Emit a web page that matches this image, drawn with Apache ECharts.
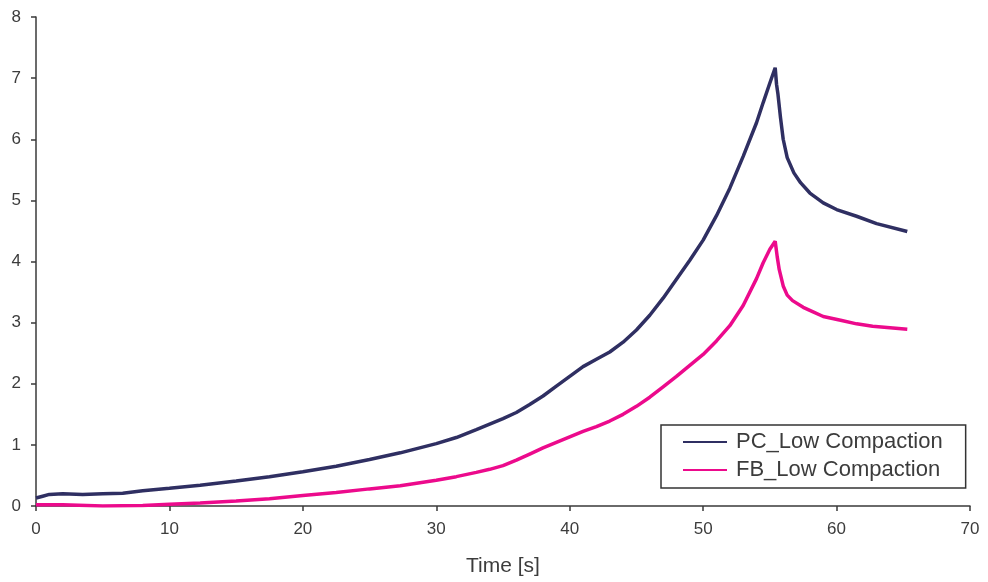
<!DOCTYPE html>
<html>
<head>
<meta charset="utf-8">
<script src="https://cdn.jsdelivr.net/npm/echarts@6/dist/echarts.min.js"></script>
<style>html,body{margin:0;padding:0;background:#fff;}#c{width:988px;height:582px;}</style>
</head>
<body>
<div id="c"></div>
<script>
const xTicks = [0, 10, 20, 30, 40, 50, 60, 70];
const yTicks = [0, 1, 2, 3, 4, 5, 6, 7, 8];

const pcTime   = [0, 0.5, 1, 2, 3.5, 5, 6.5, 8, 10, 12.3, 15, 17.5, 20, 22.5, 25, 27.3, 30, 31.5, 33, 34, 35, 36, 37, 38, 39, 40, 41, 42, 43, 44, 45, 46, 47, 48, 49, 50, 51, 52, 53, 54, 54.5, 55, 55.4, 55.5, 55.6, 55.8, 56, 56.3, 56.8, 57.3, 58, 59, 60, 61.5, 63, 65.3];
const pcValues = [0.13, 0.16, 0.19, 0.2, 0.19, 0.2, 0.21, 0.25, 0.29, 0.34, 0.41, 0.48, 0.56, 0.65, 0.76, 0.87, 1.02, 1.12, 1.25, 1.34, 1.43, 1.53, 1.66, 1.8, 1.96, 2.12, 2.28, 2.4, 2.52, 2.68, 2.88, 3.12, 3.4, 3.71, 4.02, 4.35, 4.75, 5.2, 5.72, 6.27, 6.6, 6.92, 7.17, 6.9, 6.75, 6.35, 6.0, 5.7, 5.45, 5.29, 5.12, 4.96, 4.85, 4.74, 4.62, 4.49];

const fbTime   = [0, 2, 5, 8, 10, 12.3, 15, 17.5, 20, 22.5, 25, 27.3, 30, 31.5, 33, 34, 35, 36, 37, 38, 39, 40, 41, 42, 43, 44, 45, 46, 47, 48, 49, 50, 51, 52, 53, 54, 54.5, 55, 55.4, 55.55, 55.7, 56, 56.3, 56.7, 57.5, 58.2, 59, 60.3, 61.5, 62.7, 65.3];
const fbValues = [0.02, 0.02, 0.0, 0.01, 0.03, 0.05, 0.08, 0.12, 0.17, 0.22, 0.28, 0.33, 0.42, 0.48, 0.55, 0.6, 0.66, 0.75, 0.85, 0.95, 1.04, 1.13, 1.22, 1.3, 1.39, 1.5, 1.63, 1.78, 1.95, 2.12, 2.3, 2.48, 2.7, 2.95, 3.28, 3.72, 3.98, 4.2, 4.33, 4.08, 3.87, 3.6, 3.45, 3.36, 3.25, 3.18, 3.1, 3.04, 2.98, 2.94, 2.89];

const seriesNames = ['PC_Low Compaction', 'FB_Low Compaction'];
const seriesColors = ['#2f2f62', '#ec0a8c'];

const pcData = pcTime.map((t, i) => [t, pcValues[i]]);
const fbData = fbTime.map((t, i) => [t, fbValues[i]]);

const axisColor = '#3a3a3a';
const textColor = '#3c3c3c';
const chart = echarts.init(document.getElementById('c'), null, {renderer: 'canvas'});
chart.setOption({
  animation: false,
  backgroundColor: '#ffffff',
  textStyle: {fontFamily: 'Liberation Sans, Arial, sans-serif'},
  grid: {left: 36, right: 18, top: 17, bottom: 75, containLabel: false},
  legend: {
    data: seriesNames.map(n => ({name: n, icon: 'rect'})),
    orient: 'vertical',
    left: 661, top: 425,
    itemWidth: 44, itemHeight: 2,
    itemGap: 6,
    padding: [6, 23, 7, 22],
    borderColor: '#333',
    borderWidth: 1.5,
    backgroundColor: '#fff',
    textStyle: {fontSize: 22, color: textColor, fontFamily: 'Liberation Sans, Arial, sans-serif', padding: [0, 0, 0, 4]}
  },
  xAxis: {
    type: 'value', min: xTicks[0], max: xTicks[xTicks.length - 1], interval: 10,
    name: 'Time [s]', nameLocation: 'middle', nameGap: 50,
    nameTextStyle: {fontSize: 21, color: textColor},
    axisLine: {show: true, lineStyle: {color: axisColor, width: 1.5}},
    axisTick: {show: true, length: 5, lineStyle: {color: axisColor, width: 1.5}},
    axisLabel: {fontSize: 17, color: textColor, margin: 15},
    splitLine: {show: false}
  },
  yAxis: {
    type: 'value', min: yTicks[0], max: yTicks[yTicks.length - 1], interval: 1,
    axisLine: {show: true, lineStyle: {color: axisColor, width: 1.5}},
    axisTick: {show: true, length: 5, lineStyle: {color: axisColor, width: 1.5}},
    axisLabel: {fontSize: 17, color: textColor, margin: 15},
    splitLine: {show: false}
  },
  series: [
    {name: seriesNames[0], type: 'line', data: pcData, showSymbol: false, symbol: 'none',
     lineStyle: {color: seriesColors[0], width: 3.5}, itemStyle: {color: seriesColors[0]}, z: 3},
    {name: seriesNames[1], type: 'line', data: fbData, showSymbol: false, symbol: 'none',
     lineStyle: {color: seriesColors[1], width: 3.5}, itemStyle: {color: seriesColors[1]}, z: 2}
  ]
});
</script>
</body>
</html>
